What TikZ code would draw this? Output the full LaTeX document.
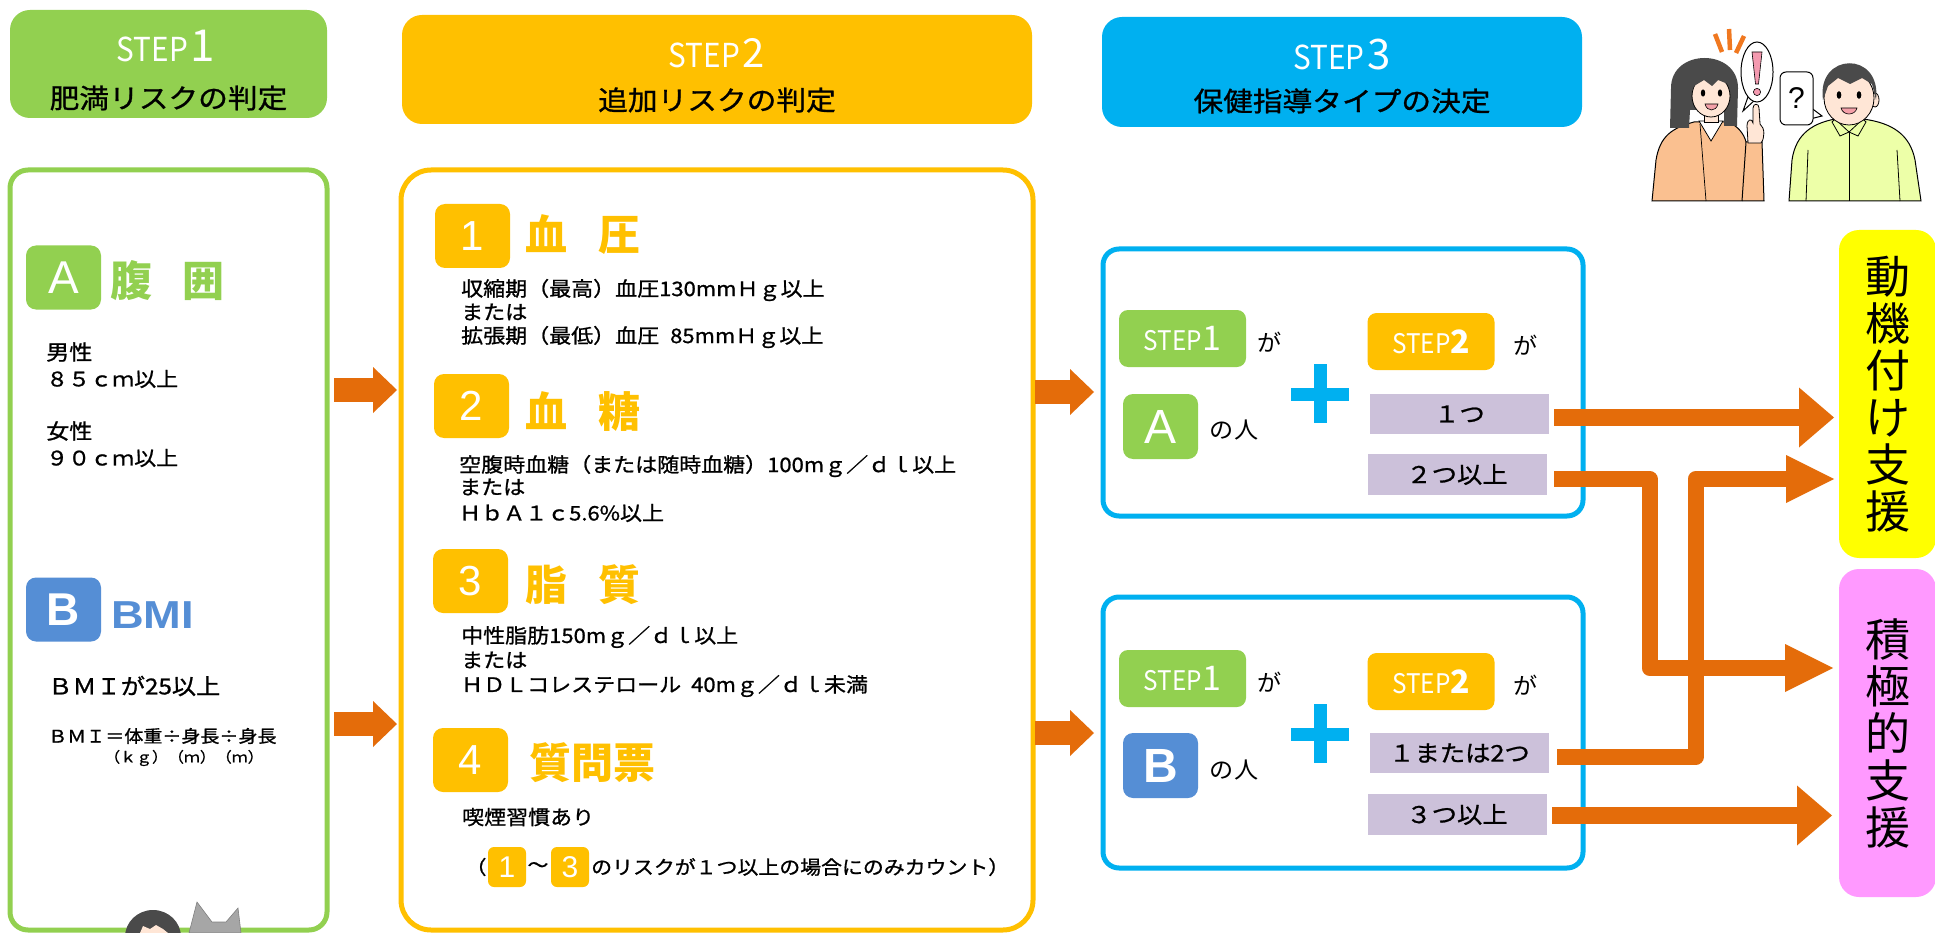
\documentclass[tikz,border=0pt]{standalone}
\usepackage{fontspec}
\setmainfont{Noto Sans CJK JP}
\newfontfamily\jpw{Noto Sans CJK JP}[FakeStretch=1.1, FakeBold=1.0]
\newfontfamily\jpl{Noto Sans CJK JP}[FakeStretch=1.05]
\newfontfamily\jpn{Noto Sans CJK JP}
\newfontfamily\stepf{Noto Sans CJK JP}[FakeStretch=0.9]
\newfontfamily\arf{Liberation Sans}
\usetikzlibrary{arrows.meta}

\definecolor{cgreen}{HTML}{92D050}
\definecolor{cgold}{HTML}{FFC000}
\definecolor{csky}{HTML}{00B0F0}
\definecolor{cblueb}{HTML}{558ED5}
\definecolor{carrow}{HTML}{E46C0A}
\definecolor{clav}{HTML}{CCC1DA}
\definecolor{cyel}{HTML}{FFFF00}
\definecolor{cpink}{HTML}{FF99FF}
\definecolor{chair}{HTML}{4A4A4A}
\definecolor{cskin}{HTML}{FFE6D6}
\definecolor{cjacket}{HTML}{FAC090}
\definecolor{cshirt}{HTML}{EDFFA8}
\definecolor{cburst}{HTML}{F07820}
\definecolor{cexcl}{HTML}{F49AB0}
\definecolor{cmouth}{HTML}{F4A0A8}
\definecolor{cgrayanimal}{HTML}{A6A6A6}

\tikzset{
  panel/.style={draw, line width=5pt, fill=white, inner sep=0pt},
  hdr/.style={rounded corners=20pt, inner sep=0pt},
  badge/.style={rounded corners=10pt, inner sep=0pt, minimum width=75pt,
    minimum height=64pt, text=white, font=\arf\fontsize{42}{42}\selectfont},
  minibadge/.style={fill=cgold, rounded corners=6pt, inner sep=0pt, minimum width=38pt,
    minimum height=40pt, text=white, font=\arf\fontsize{30}{30}\selectfont},
  body/.style={anchor=west, inner sep=0pt, font=\jpw\fontsize{20}{20}\selectfont},
  hdrstep/.style={inner sep=0pt, text=white},
  hdrjp/.style={inner sep=0pt, font=\jpw\fontsize{27}{27}\selectfont},
  gtitle/.style={anchor=west, inner sep=0pt, text=cgold, font=\jpn\bfseries\fontsize{42}{42}\selectfont},
  pill/.style={rounded corners=9pt, inner sep=0pt, minimum width=127pt, minimum height=57pt, text=white},
  count/.style={fill=clav, inner sep=0pt, minimum width=179pt, minimum height=40pt,
    font=\jpw\fontsize{23}{23}\selectfont},
  small/.style={inner sep=0pt, font=\jpl\fontsize{23}{23}\selectfont},
  result/.style={rounded corners=20pt, inner sep=0pt, minimum width=97pt, align=center,
    font=\jpn\fontsize{45}{47}\selectfont},
  bigarrow/.style={draw=carrow, line width=24pt,
    -{Triangle[length=24pt 0 0, width=46pt 0 0, line width=0pt 0 0]}},
  straightarrow/.style={draw=carrow, line width=17pt,
    -{Triangle[length=35pt 0 0, width=60pt 0 0, line width=0pt 0 0]}},
  elbowarrow/.style={draw=carrow, line width=16pt, line join=round,
    -{Triangle[length=48pt 0 0, width=48pt 0 0, line width=0pt 0 0]}},
  ink/.style={draw=black, line width=1pt}
}

\begin{document}
\begin{tikzpicture}[x=1pt,y=-1pt]
\useasboundingbox (0,0) rectangle (1935,933);
\fill[white] (0,0) rectangle (1935,933);

% ---------- step headers ----------
\node[hdr, fill=cgreen, minimum width=317pt, minimum height=108pt] (h1) at (168.5,64) {};
\node[hdrstep] (h1s) at (166,46) {{\stepf\fontsize{33}{33}\selectfont STEP}\kern3pt{\jpn\fontsize{44}{44}\selectfont 1}};
\node[hdrjp] (h1j) at (168.5,98) {肥満リスクの判定};

\node[hdr, fill=cgold, minimum width=630pt, minimum height=109pt] (h2) at (717,69.5) {};
\node[hdrstep] (h2s) at (717,53) {{\stepf\fontsize{33}{33}\selectfont STEP}\kern3pt{\jpn\fontsize{40}{40}\selectfont 2}};
\node[hdrjp] (h2j) at (717,100) {追加リスクの判定};

\node[hdr, fill=csky, minimum width=480pt, minimum height=110pt] (h3) at (1342,72) {};
\node[hdrstep] (h3s) at (1342,55) {{\stepf\fontsize{33}{33}\selectfont STEP}\kern3pt{\jpn\fontsize{42}{42}\selectfont 3}};
\node[hdrjp] (h3j) at (1342,101) {保健指導タイプの決定};

% ---------- step 1 panel ----------
\node[panel, draw=cgreen, rounded corners=18pt, minimum width=317pt, minimum height=760pt] (p1) at (168.5,550) {};
\node[badge, fill=cgreen, font=\arf\fontsize{46}{46}\selectfont] (ba) at (63.5,277.5) {A};
\node[anchor=west, inner sep=0pt, text=cgreen, font=\jpn\bfseries\fontsize{42}{42}\selectfont] (ta) at (110,281) {腹\hspace{30pt}囲};
\node[body, font=\jpw\fontsize{21}{21}\selectfont] (m1) at (46,352) {男性};
\node[body, font=\jpw\fontsize{20}{20}\selectfont] (m2) at (46,379) {８５ｃｍ以上};
\node[body, font=\jpw\fontsize{21}{21}\selectfont] (f1) at (46,431) {女性};
\node[body, font=\jpw\fontsize{20}{20}\selectfont] (f2) at (46,458) {９０ｃｍ以上};

\node[badge, fill=cblueb, font=\arf\bfseries\fontsize{46}{46}\selectfont] (bb) at (63.5,609.5) {B};
\node[anchor=west, inner sep=0pt, text=cblueb, font=\arf\bfseries\fontsize{39}{39}\selectfont] (tb) at (111,615) {\scalebox{1.16}[1]{BMI}};
\node[body, font=\jpw\fontsize{22}{22}\selectfont] (bm1) at (48,686) {ＢＭＩが25以上};
\node[body, font=\jpw\fontsize{17.3}{17.3}\selectfont] (bm2) at (48,736) {ＢＭＩ＝体重÷身長÷身長};
\node[body, font=\jpw\fontsize{14.5}{14.5}\selectfont] (bm3) at (104,758) {（ｋｇ）（ｍ）（ｍ）};

% small figures peeking in at the bottom
\fill[chair] (153,937) ellipse (28 and 27);
\fill[cskin] (140,933) -- (143,926) -- (150,929) -- (156,925) -- (163,929) -- (168,933) -- cycle;
\filldraw[fill=cgrayanimal, draw=gray, line width=0.6pt] (189,933) -- (197,902) -- (212,922) -- (226,922) -- (238,908) -- (241,933) -- cycle;

% ---------- step 2 panel ----------
\node[panel, draw=cgold, rounded corners=30pt, minimum width=632pt, minimum height=760pt] (p2) at (717,550) {};

\node[badge, fill=cgold] (n1) at (472.5,236) {1};
\node[gtitle] (t1) at (525,235) {血\hspace{31pt}圧};
\node[body] (t1a) at (461,290) {収縮期（最高）血圧130mmＨｇ以上};
\node[body] (t1b) at (461,312) {または};
\node[body] (t1c) at (461,337) {拡張期（最低）血圧\kern11pt 85mmＨｇ以上};

\node[badge, fill=cgold] (n2) at (471.5,406) {2};
\node[gtitle] (t2) at (525,411) {血\hspace{31pt}糖};
\node[body] (t2a) at (459,466) {空腹時血糖（または随時血糖）100mｇ／ｄｌ以上};
\node[body] (t2b) at (459,487) {または};
\node[body] (t2c) at (459,513) {ＨｂＡ１ｃ5.6\%以上};

\node[badge, fill=cgold] (n3) at (470.5,581) {3};
\node[gtitle] (t3) at (525,585) {脂\hspace{31pt}質};
\node[body] (t3a) at (461,637) {中性脂肪150mｇ／ｄｌ以上};
\node[body] (t3b) at (461,660) {または};
\node[body] (t3c) at (461,686) {ＨＤＬコレステロール\kern10pt 40mｇ／ｄｌ未満};

\node[badge, fill=cgold] (n4) at (470.5,760) {4};
\node[gtitle] (t4) at (529,763) {質問票};
\node[body] (t4a) at (462,817) {喫煙習慣あり};
\node[inner sep=0pt, font=\jpw\fontsize{19}{19}\selectfont] (q0) at (476,867) {（};
\node[minibadge] (q1) at (507,867) {1};
\node[inner sep=0pt, font=\jpw\fontsize{19}{19}\selectfont] (q2) at (538,867) {～};
\node[minibadge] (q3) at (570,867) {3};
\node[body, font=\jpw\fontsize{19}{19}\selectfont] (q4) at (591,867) {のリスクが１つ以上の場合にのみカウント）};

% ---------- step 3 panels ----------
\node[panel, draw=csky, rounded corners=16pt, minimum width=480pt, minimum height=267pt] (pu) at (1343,382.5) {};
\node[pill, fill=cgreen] (su1) at (1182.5,338.5) {{\stepf\fontsize{27}{27}\selectfont STEP}{\jpn\fontsize{34}{34}\selectfont 1}};
\node[small] (gu1) at (1270,342) {が};
\node[pill, fill=cgold] (su2) at (1431,341.5) {{\stepf\fontsize{27}{27}\selectfont STEP}{\jpn\bfseries\fontsize{32}{32}\selectfont 2}};
\node[small] (gu2) at (1526,345) {が};
\node[badge, fill=cgreen, minimum height=65pt, font=\arf\fontsize{48}{48}\selectfont] (ua) at (1160.5,426.5) {A};
\node[small] (ju) at (1234,430) {の人};
\fill[csky] (1313.5,364) rectangle (1326.5,423);
\fill[csky] (1291,387.5) rectangle (1349,400.5);
\node[count] (r1) at (1459.5,414) {１つ};
\node[count, minimum height=41pt] (r2) at (1457,474.5) {２つ以上};

\node[panel, draw=csky, rounded corners=16pt, minimum width=480pt, minimum height=271pt] (pl) at (1343,732.5) {};
\node[pill, fill=cgreen] (sl1) at (1182.5,678.5) {{\stepf\fontsize{27}{27}\selectfont STEP}{\jpn\fontsize{34}{34}\selectfont 1}};
\node[small] (gl1) at (1270,682) {が};
\node[pill, fill=cgold] (sl2) at (1431,681.5) {{\stepf\fontsize{27}{27}\selectfont STEP}{\jpn\bfseries\fontsize{32}{32}\selectfont 2}};
\node[small] (gl2) at (1526,685) {が};
\node[badge, fill=cblueb, minimum height=65pt, font=\arf\bfseries\fontsize{48}{48}\selectfont] (lb) at (1160.5,765.5) {B};
\node[small] (jl) at (1234,770) {の人};
\fill[csky] (1313.5,704) rectangle (1326.5,763);
\fill[csky] (1291,727.5) rectangle (1349,740.5);
\node[count] (r3) at (1459.5,753) {１または2つ};
\node[count, minimum height=41pt] (r4) at (1457,814.5) {３つ以上};

% ---------- results ----------
\node[result, fill=cyel, minimum height=328pt] (res1) at (1887.5,394) {動\\機\\付\\け\\支\\援};
\node[result, fill=cpink, minimum height=328pt] (res2) at (1887.5,733) {積\\極\\的\\支\\援};

% ---------- connectors ----------
\coordinate (a1s) at (334,390);   \coordinate (a1e) at (397,390);
\coordinate (a2s) at (334,724);   \coordinate (a2e) at (397,724);
\coordinate (b1s) at (1035,392);  \coordinate (b1e) at (1094,392);
\coordinate (b2s) at (1035,733);  \coordinate (b2e) at (1094,733);
\draw[bigarrow] (a1s) -- (a1e);
\draw[bigarrow] (a2s) -- (a2e);
\draw[bigarrow] (b1s) -- (b1e);
\draw[bigarrow] (b2s) -- (b2e);

\coordinate (c1s) at (1554,417.5); \coordinate (c1e) at (1834,417.5);
\coordinate (c2s) at (1554,479);   \coordinate (c2e) at (1833,668);
\coordinate (c3s) at (1557,757);   \coordinate (c3e) at (1834,479);
\coordinate (c4s) at (1552,815.5); \coordinate (c4e) at (1832,815.5);
\draw[straightarrow] (c1s) -- (c1e);
\draw[elbowarrow] (c2s) -- (1649.5,479) -- (1649.5,668) -- (c2e);
\draw[elbowarrow] (c3s) -- (1695.5,757) -- (1695.5,479) -- (c3e);
\draw[straightarrow] (c4s) -- (c4e);

% ---------- two people talking ----------
% woman
\filldraw[fill=cjacket, ink] (1652,201) -- (1656,160) .. controls (1660,136) and (1672,128) .. (1694,122) -- (1728,122) .. controls (1738,126) and (1744,134) .. (1746,142) -- (1762,142) -- (1764,201) -- cycle;
\draw[ink] (1746,142) -- (1742,201);
\draw[ink, line width=0.7pt] (1700,124) -- (1706,201);
\filldraw[fill=white, ink, line width=0.8pt] (1699,121) -- (1711,141) -- (1723,121) -- cycle;
\fill[chair] (1671,88) .. controls (1671,48) and (1738,48) .. (1738,88) -- (1737,126) -- (1724,126) -- (1724,110) -- (1690,110) -- (1689,128) -- (1670,128) -- cycle;
\filldraw[fill=cskin, ink, line width=0.8pt] (1704,108) rectangle (1718,122);
\filldraw[fill=cskin, ink, line width=0.8pt] (1711,96) ellipse (19 and 21);
\fill[chair] (1690,96) .. controls (1688,64) and (1734,62) .. (1732,96) -- (1728,84) -- (1718,80) -- (1712,86) -- (1704,80) -- (1694,86) -- cycle;
\fill (1703,93) ellipse (2.2 and 3.6);
\fill (1720,93) ellipse (2.2 and 3.6);
\filldraw[fill=cmouth, ink, line width=0.6pt] (1705,104) .. controls (1707,112) and (1716,112) .. (1718,104) -- cycle;
\filldraw[fill=cskin, ink, line width=0.8pt] (1748,143) -- (1747,126) .. controls (1747,119) and (1752,118) .. (1753,123) -- (1753,108) .. controls (1753,103) and (1759,103) .. (1759,108) -- (1760,124) .. controls (1765,128) and (1765,138) .. (1761,143) -- cycle;
\draw[cburst, line width=4.5pt] (1715,34) -- (1722,52);
\draw[cburst, line width=4.5pt] (1729,29) -- (1730,50);
\draw[cburst, line width=4.5pt] (1744,36) -- (1736,53);
\filldraw[fill=white, ink] (1749,94) -- (1743,111) -- (1756,99) -- cycle;
\filldraw[fill=white, ink] (1757,72) ellipse (16 and 30);
\filldraw[fill=cexcl, draw=black, line width=0.6pt] (1752,52) -- (1762,52) -- (1758.5,84) -- (1755.5,84) -- cycle;
\filldraw[fill=cexcl, draw=black, line width=0.6pt] (1757,92) circle (3.6);
% man
\filldraw[fill=cshirt, ink] (1789,201) -- (1792,160) .. controls (1796,132) and (1815,123) .. (1835,119) -- (1863,119) .. controls (1893,123) and (1910,135) .. (1915,160) -- (1921,201) -- cycle;
\draw[ink, line width=0.8pt] (1849,132) -- (1849,201);
\draw[ink, line width=0.8pt] (1808,150) -- (1806,201);
\draw[ink, line width=0.8pt] (1897,150) -- (1900,201);
\filldraw[fill=cskin, ink, line width=0.8pt] (1838,108) rectangle (1860,122);
\filldraw[fill=cshirt, ink, line width=0.8pt] (1835,119) -- (1849,132) -- (1840,136) -- (1832,122) -- cycle;
\filldraw[fill=cshirt, ink, line width=0.8pt] (1863,119) -- (1849,132) -- (1858,136) -- (1866,122) -- cycle;
\filldraw[fill=cskin, ink, line width=0.8pt] (1875,100) ellipse (4 and 7);
\filldraw[fill=cskin, ink, line width=0.8pt] (1849,98) ellipse (25 and 27);
\fill[chair] (1823,100) .. controls (1816,52) and (1882,50) .. (1876,100) -- (1872,84) -- (1862,78) -- (1850,84) -- (1838,78) -- (1828,86) -- cycle;
\fill (1839,95) ellipse (2.3 and 3.8);
\fill (1859,95) ellipse (2.3 and 3.8);
\filldraw[fill=cmouth, ink, line width=0.6pt] (1841,108) .. controls (1843,116) and (1855,116) .. (1857,108) -- cycle;
\filldraw[fill=white, ink] (1810,107) -- (1822,116) -- (1810,119) -- cycle;
\filldraw[fill=white, ink, rounded corners=6pt] (1780,72) rectangle (1813,125);
\node[inner sep=0pt, font=\arf\fontsize{30}{30}\selectfont] (qm) at (1796.5,98) {?};
\end{tikzpicture}
\end{document}
